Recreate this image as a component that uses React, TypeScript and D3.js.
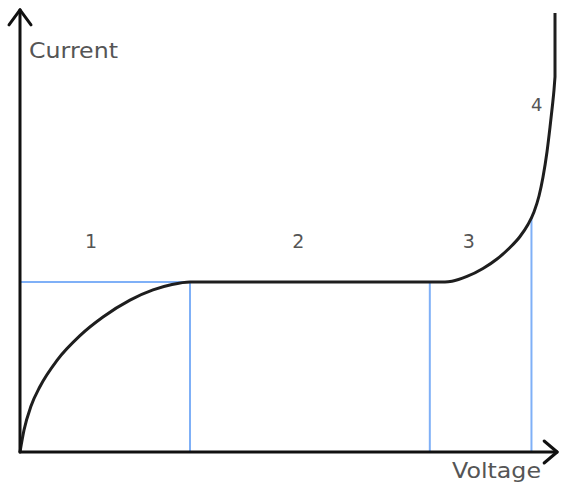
import React from "react";
import * as d3 from "d3";

// I–V characteristic, sampled along the curve (voltage, current in arbitrary units)
const curveVoltage = [
  0, 0.75, 2.06, 3.74, 6.92, 11.21, 15.51, 20.56, 24.86, 28.41, 31.78,
  79.44, 80.75, 83.55, 86.54, 89.16, 91.59, 93.46, 94.95, 96.07, 97.01, 97.76, 98.5, 99.07, 99.53, 99.81, 100,
];
const curveCurrent = [
  0, 5.0, 10.45, 14.89, 20.84, 26.45, 30.68, 34.52, 36.84, 38.07, 38.64,
  38.64, 38.8, 39.89, 41.7, 43.86, 46.48, 48.98, 51.7, 54.55, 58.18, 62.5, 68.18, 73.86, 78.86, 82.27, 85.23,
];
// the breakdown branch finishes straight up
const breakdownTopCurrent = 99.8;

// Region boundaries on the voltage axis and the current reached there
const boundaryVoltage = [31.78, 76.6, 95.6];
const boundaryCurrent = [38.64, 38.64, 53.4];
const plateauCurrent = 38.64;

// Region labels
const regionLabels = ["1", "2", "3", "4"];
const labelVoltage = [13.3, 52.0, 83.9, 96.6];
const labelCurrent = [46.3, 46.3, 46.3, 77.6];

const xAxisTitle = "Voltage";
const yAxisTitle = "Current";

const W = 561;
const H = 485;

export default function App() {
  const x = d3.scaleLinear().domain([0, 100]).range([20, 555]);
  const y = d3.scaleLinear().domain([0, 100]).range([452, 12]);

  const pts: [number, number][] = curveVoltage.map((v, i) => [v, curveCurrent[i]]);
  const line = d3
    .line<[number, number]>()
    .x((d) => x(d[0]))
    .y((d) => y(d[1]))
    .curve(d3.curveMonotoneX);
  const lastV = curveVoltage[curveVoltage.length - 1];
  const curvePath = (line(pts) ?? "") + `L${x(lastV)},${y(breakdownTopCurrent)}`;

  const x0 = x(0);
  const y0 = y(0);
  const xEnd = x(100.4);
  const yTop = y(100.5);

  const textColor = "#555";
  const blue = "#7fb0f7";

  return (
    <svg
      width={W}
      height={H}
      style={{ position: "absolute", left: 0, top: 0, background: "#fff" }}
      fontFamily="DejaVu Sans, sans-serif"
    >
      {/* guide lines marking the regions */}
      <g stroke={blue} strokeWidth={2} fill="none">
        <line x1={x0} x2={x(boundaryVoltage[0])} y1={y(plateauCurrent)} y2={y(plateauCurrent)} />
        {boundaryVoltage.map((v, i) => (
          <line key={i} x1={x(v)} x2={x(v)} y1={y0} y2={y(boundaryCurrent[i])} />
        ))}
      </g>

      {/* characteristic curve */}
      <path d={curvePath} fill="none" stroke="#1e1e1e" strokeWidth={3} strokeLinejoin="round" />

      {/* axes with open arrowheads */}
      <g stroke="#111" strokeWidth={3} fill="none" strokeLinecap="round" strokeLinejoin="round">
        <line x1={x0} x2={x0} y1={y0} y2={yTop} />
        <line x1={x0} x2={xEnd} y1={y0} y2={y0} />
        <path d={`M${x0 - 11},${yTop + 15}L${x0},${yTop}L${x0 + 11},${yTop + 15}`} />
        <path d={`M${xEnd - 13},${y0 - 11}L${xEnd},${y0}L${xEnd - 13},${y0 + 11}`} />
      </g>

      {/* axis titles */}
      <text x={29} y={58} fontSize={21} fill={textColor} textLength={89} lengthAdjust="spacingAndGlyphs">
        {yAxisTitle}
      </text>
      <text x={452} y={478} fontSize={21} fill={textColor} textLength={89} lengthAdjust="spacingAndGlyphs">
        {xAxisTitle}
      </text>

      {/* region numbers */}
      {regionLabels.map((t, i) => (
        <text
          key={t}
          x={x(labelVoltage[i])}
          y={y(labelCurrent[i])}
          fontSize={i === 3 ? 18 : 19}
          fill={textColor}
          textAnchor="middle"
        >
          {t}
        </text>
      ))}
    </svg>
  );
}
